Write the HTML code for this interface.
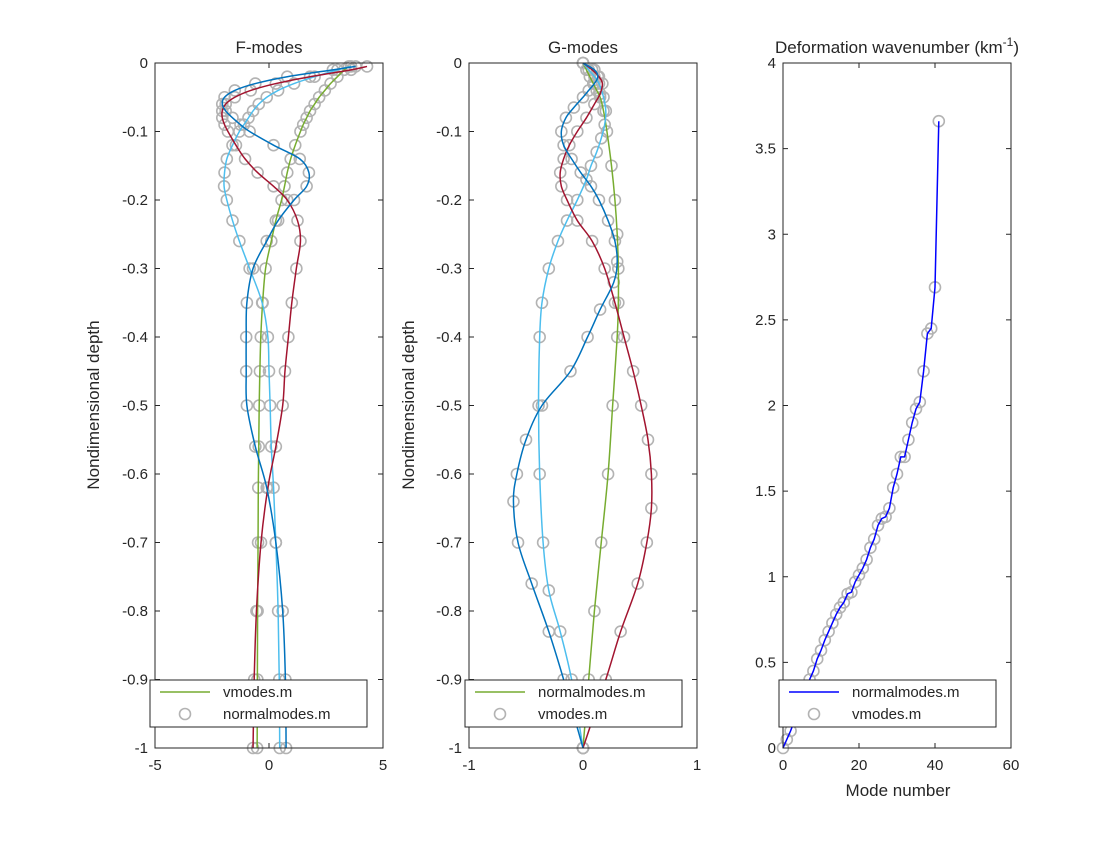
<!DOCTYPE html>
<html><head><meta charset="utf-8"><style>
body{margin:0;background:#fff}
svg text{font-family:"Liberation Sans",Helvetica,sans-serif;fill:#262626}
</style></head><body>
<svg id="chart" width="1120" height="840" xmlns="http://www.w3.org/2000/svg"></svg>
<script>
// ---- F-modes data (depth positive-down, value) ----
const fDepth = [0.005,0.01,0.02,0.03,0.04,0.05,0.06,0.07,0.08,0.09,0.1,0.12,0.14,0.16,0.18,0.2,0.23,0.26,0.3,0.35,0.4,0.45,0.5,0.56,0.62,0.7,0.8,0.9,1.0];
const fMode1 = [3.5,3.3,3.0,2.7,2.45,2.2,2.0,1.8,1.65,1.5,1.38,1.15,0.95,0.8,0.68,0.55,0.3,0.1,-0.15,-0.28,-0.36,-0.4,-0.43,-0.45,-0.47,-0.48,-0.5,-0.51,-0.52];
const fMode2 = [3.6,3.0,2.0,1.1,0.4,-0.1,-0.45,-0.7,-0.9,-1.1,-1.3,-1.6,-1.85,-1.95,-1.97,-1.85,-1.6,-1.3,-0.85,-0.3,-0.05,0.0,0.05,0.1,0.2,0.3,0.4,0.45,0.47];
const fMode3 = [4.3,3.6,1.8,0.3,-0.8,-1.5,-1.9,-2.05,-2.05,-1.95,-1.8,-1.45,-1.05,-0.5,0.2,0.8,1.25,1.38,1.2,1.0,0.85,0.7,0.6,0.3,-0.05,-0.35,-0.55,-0.65,-0.7];
const fMode4 = [3.8,2.8,0.8,-0.6,-1.5,-1.95,-2.05,-1.9,-1.6,-1.25,-0.85,0.2,1.35,1.75,1.65,1.1,0.4,-0.1,-0.7,-0.97,-1.0,-1.0,-0.97,-0.6,-0.1,0.3,0.6,0.72,0.75];
// ---- G-modes data ----
const gDepth1 = [0,0.01,0.02,0.03,0.04,0.05,0.07,0.1,0.15,0.2,0.25,0.3,0.35,0.4,0.5,0.6,0.7,0.8,0.9,1.0];
const gMode1 = [0,0.03,0.06,0.09,0.12,0.15,0.18,0.21,0.25,0.28,0.3,0.31,0.31,0.3,0.26,0.22,0.16,0.1,0.05,0];
const gDepth2 = [0,0.01,0.02,0.03,0.05,0.07,0.09,0.11,0.13,0.15,0.17,0.2,0.23,0.26,0.3,0.35,0.4,0.5,0.6,0.7,0.77,0.83,0.9,1.0];
const gMode2 = [0,0.05,0.1,0.14,0.18,0.2,0.19,0.16,0.12,0.07,0.03,-0.05,-0.14,-0.22,-0.3,-0.36,-0.38,-0.39,-0.38,-0.35,-0.3,-0.2,-0.1,0];
const gDepth3 = [0,0.01,0.02,0.03,0.045,0.06,0.08,0.1,0.12,0.14,0.16,0.18,0.2,0.23,0.26,0.3,0.35,0.4,0.45,0.5,0.55,0.6,0.65,0.7,0.76,0.83,0.9,1.0];
const gMode3 = [0,0.08,0.14,0.17,0.15,0.1,0.03,-0.05,-0.12,-0.17,-0.2,-0.19,-0.14,-0.05,0.08,0.19,0.28,0.36,0.44,0.51,0.57,0.6,0.6,0.56,0.48,0.33,0.2,0];
const gDepth4 = [0,0.01,0.02,0.03,0.04,0.05,0.065,0.08,0.1,0.12,0.14,0.16,0.18,0.2,0.23,0.26,0.29,0.32,0.36,0.4,0.45,0.5,0.55,0.6,0.64,0.7,0.76,0.83,0.9,1.0];
const gMode4 = [0,0.1,0.13,0.1,0.05,0,-0.08,-0.15,-0.19,-0.17,-0.1,-0.02,0.07,0.14,0.22,0.28,0.3,0.27,0.15,0.04,-0.11,-0.36,-0.5,-0.58,-0.61,-0.57,-0.45,-0.3,-0.17,0];
// ---- Deformation wavenumber ----
const modeNumbers = [0,1,2,3,4,5,6,7,8,9,10,11,12,13,14,15,16,17,18,19,20,21,22,23,24,25,26,27,28,29,30,31,32,33,34,35,36,37,38,39,40,41];
const wavenumbers = [0,0.05,0.1,0.16,0.22,0.28,0.35,0.4,0.45,0.52,0.57,0.63,0.68,0.73,0.78,0.82,0.85,0.9,0.91,0.97,1.01,1.05,1.1,1.17,1.22,1.3,1.34,1.35,1.4,1.52,1.6,1.7,1.7,1.8,1.9,1.98,2.02,2.2,2.42,2.45,2.69,3.66];
const fTicksX = [-5,0,5];
const gTicksX = [-1,0,1];
const kTicksX = [0,20,40,60];
const depthTicks = [0,-0.1,-0.2,-0.3,-0.4,-0.5,-0.6,-0.7,-0.8,-0.9,-1];
const kTicksY = [0,0.5,1,1.5,2,2.5,3,3.5,4];

const NS="http://www.w3.org/2000/svg";
const svg=document.getElementById('chart');
function mk(tag,attrs,parent){const e=document.createElementNS(NS,tag);for(const k in attrs)e.setAttribute(k,attrs[k]);(parent||svg).appendChild(e);return e;}
const TOP=63,BOT=748;
const GREEN='#77AC30',LBLUE='#4DBEEE',RED='#A2142F',BLUE='#0072BD',MK='#b3b3b3';

function smoothPath(pts){
  let d='M'+pts[0][0]+','+pts[0][1];
  for(let i=0;i<pts.length-1;i++){
    const p0=pts[Math.max(i-1,0)],p1=pts[i],p2=pts[i+1],p3=pts[Math.min(i+2,pts.length-1)];
    const c1x=p1[0]+(p2[0]-p0[0])/6,c1y=p1[1]+(p2[1]-p0[1])/6;
    const c2x=p2[0]-(p3[0]-p1[0])/6,c2y=p2[1]-(p3[1]-p1[1])/6;
    d+=` C${c1x},${c1y} ${c2x},${c2y} ${p2[0]},${p2[1]}`;
  }
  return d;
}

function axesFrame(name,x0,x1,xmin,xmax,xt,ymin,ymax,yt,ylabelFmt){
  const g=mk('g',{});
  
  
  const sx=v=>x0+(v-xmin)/(xmax-xmin)*(x1-x0);
  const sy=v=>BOT-(v-ymin)/(ymax-ymin)*(BOT-TOP);
  mk('rect',{x:x0,y:TOP,width:x1-x0,height:BOT-TOP,fill:'#fff',stroke:'none'},g);
  xt.forEach(t=>{
    const x=sx(t);
    mk('line',{x1:x,y1:BOT,x2:x,y2:BOT-5,stroke:'#262626','stroke-width':1},g);
    mk('line',{x1:x,y1:TOP,x2:x,y2:TOP+5,stroke:'#262626','stroke-width':1},g);
    const tx=mk('text',{x:x,y:BOT+22,'text-anchor':'middle','font-size':15},g);tx.textContent=t;
    
  });
  yt.forEach(t=>{
    const y=sy(t);
    mk('line',{x1:x0,y1:y,x2:x0+5,y2:y,stroke:'#262626','stroke-width':1},g);
    mk('line',{x1:x1,y1:y,x2:x1-5,y2:y,stroke:'#262626','stroke-width':1},g);
    const tx=mk('text',{x:x0-7,y:y+5,'text-anchor':'end','font-size':15},g);tx.textContent=ylabelFmt(t);
    
  });
  return {g,sx,sy,x0,x1};
}
function frameBorder(ax){mk('rect',{x:ax.x0,y:TOP,width:ax.x1-ax.x0,height:BOT-TOP,fill:'none',stroke:'#262626','stroke-width':1},ax.g);}
function markers(ax,xs,ys,name){
  for(let i=0;i<xs.length;i++){
    const c=mk('circle',{cx:ax.sx(xs[i]),cy:ax.sy(ys[i]),r:5.5,fill:'none',stroke:MK,'stroke-width':1.6},ax.g);
    
    
  }
}
function curve(ax,xs,ys,color,name,smooth){
  const pts=xs.map((v,i)=>[ax.sx(v),ax.sy(ys[i])]);
  const d=smooth?smoothPath(pts):'M'+pts.map(p=>p.join(',')).join(' L');
  const p=mk('path',{d:d,fill:'none',stroke:color,'stroke-width':1.5},ax.g);
  
  
}
function legend(x,lineLabel,circLabel,lineColor,name){
  const g=mk('g',{});
  
  
  mk('rect',{x:x,y:680,width:217,height:47,fill:'#fff',stroke:'#262626','stroke-width':1},g);
  mk('line',{x1:x+10,y1:692,x2:x+60,y2:692,stroke:lineColor,'stroke-width':1.5},g);
  mk('circle',{cx:x+35,cy:714,r:5.5,fill:'none',stroke:MK,'stroke-width':1.6},g);
  const t1=mk('text',{x:x+73,y:697,'font-size':15},g);t1.textContent=lineLabel;
  const t2=mk('text',{x:x+73,y:719,'font-size':15},g);t2.textContent=circLabel;
}
const depthFmt=t=>t===0?'0':(t===-1?'-1':t.toFixed(1));
const neg=a=>a.map(v=>-v);

// Panel 1
const a1=axesFrame('f-modes-axes',155,383,-5,5,fTicksX,-1,0,depthTicks,depthFmt);
const fModes=[fMode1,fMode2,fMode3,fMode4],fCols=[GREEN,LBLUE,RED,BLUE];
fModes.forEach((m,i)=>markers(a1,m,neg(fDepth),'f-mode'+(i+1)+'-marker'));
fModes.forEach((m,i)=>curve(a1,m,neg(fDepth),fCols[i],'f-mode'+(i+1)+'-line',true));
frameBorder(a1);
// Panel 2
const a2=axesFrame('g-modes-axes',469,697,-1,1,gTicksX,-1,0,depthTicks,depthFmt);
const gModes=[[gMode1,gDepth1],[gMode2,gDepth2],[gMode3,gDepth3],[gMode4,gDepth4]];
gModes.forEach((m,i)=>markers(a2,m[0],neg(m[1]),'g-mode'+(i+1)+'-marker'));
gModes.forEach((m,i)=>curve(a2,m[0],neg(m[1]),fCols[i],'g-mode'+(i+1)+'-line',true));
frameBorder(a2);
// Panel 3
const a3=axesFrame('wavenumber-axes',783,1011,0,60,kTicksX,0,4,kTicksY,t=>String(t));
markers(a3,modeNumbers,wavenumbers,'vmodes-marker');
curve(a3,modeNumbers,wavenumbers,'#0000ff','normalmodes-line',false);
frameBorder(a3);

legend(150,'vmodes.m','normalmodes.m',GREEN,'f-modes-legend');
legend(465,'normalmodes.m','vmodes.m',GREEN,'g-modes-legend');
legend(779,'normalmodes.m','vmodes.m','#0000ff','wavenumber-legend');

function txt(x,y,s,attrs,name){const t=mk('text',Object.assign({x:x,y:y,'font-size':17,'text-anchor':'middle'},attrs||{}));t.textContent=s;return t;}
txt(269,53,'F-modes',{},'f-modes-title');
txt(583,53,'G-modes',{},'g-modes-title');
const t3=txt(897,53,'Deformation wavenumber (km',{},'wavenumber-title');
const sup=mk('tspan',{dy:-7,'font-size':12},t3);sup.textContent='-1';
const cl=mk('tspan',{dy:7},t3);cl.textContent=')';
txt(99,405,'Nondimensional depth',{transform:'rotate(-90 99 405)'},'f-y-axis-title');
txt(414,405,'Nondimensional depth',{transform:'rotate(-90 414 405)'},'g-y-axis-title');
txt(898,796,'Mode number',{},'x-axis-title');
</script>
</body></html>
